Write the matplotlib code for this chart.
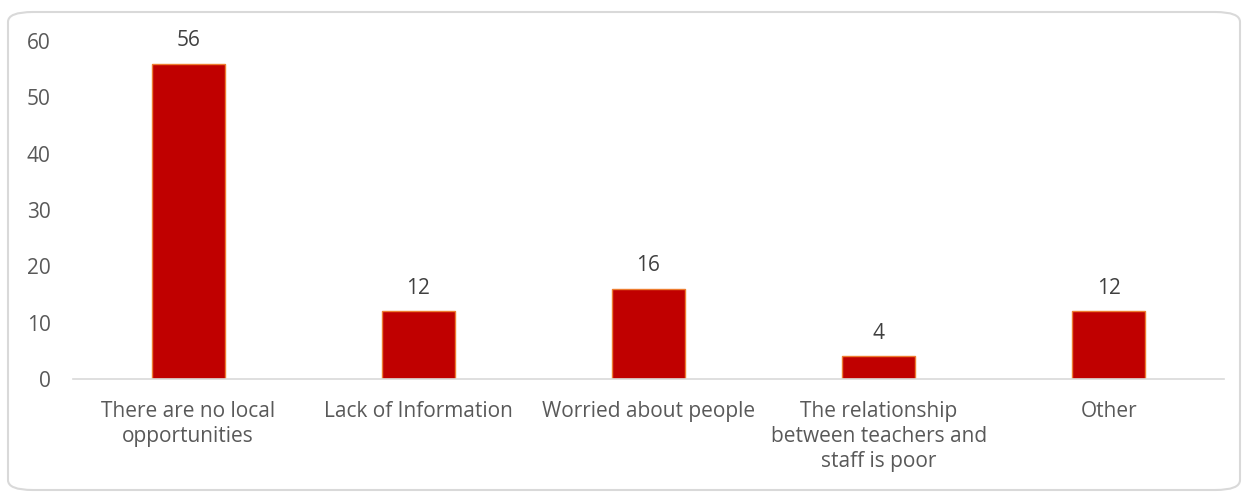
import matplotlib.pyplot as plt
from matplotlib.patches import FancyBboxPatch

categories = ["There are no local\nopportunities", "Lack of Information",
              "Worried about people",
              "The relationship\nbetween teachers and\nstaff is poor", "Other"]
values = [56, 12, 16, 4, 12]
yticks = [0, 10, 20, 30, 40, 50, 60]

plt.rcParams['font.family'] = ['Open Sans', 'DejaVu Sans']
txt_color = "#595959"

fig = plt.figure(figsize=(12.43, 4.94), dpi=100)

# rounded chart border
border = FancyBboxPatch((8 / 1243, 4 / 494), 1232 / 1243, 478 / 494,
                        boxstyle="round,pad=0,rounding_size=0.02",
                        transform=fig.transFigure, facecolor="none",
                        edgecolor="#D9D9D9", linewidth=1.5, zorder=-1)
fig.patches.append(border)

ax = fig.add_axes([73 / 1243, 115 / 494, 1151 / 1243, 338 / 494])
ax.set_facecolor("none")
x = range(len(values))
bars = ax.bar(x, values, width=0.317, color="#C00000", edgecolor="#ED7D31",
              linewidth=1)
for xi, v in zip(x, values):
    ax.annotate(str(v), (xi, v), xytext=(0, 16.5), textcoords="offset points",
                ha="center", va="center", fontsize=15, color="#404040")

ax.set_xlim(-0.5, len(values) - 0.5)
ax.set_ylim(0, 60)
ax.set_yticks(yticks)
ax.set_xticks(list(x))
ax.set_xticklabels(categories, fontsize=15, color=txt_color, linespacing=1.25)
ax.tick_params(axis="y", labelsize=15, labelcolor=txt_color, length=0, pad=16)
ax.tick_params(axis="x", length=0, pad=16)
for s in ["top", "right", "left"]:
    ax.spines[s].set_visible(False)
ax.spines["bottom"].set_color("#D9D9D9")
ax.spines["bottom"].set_linewidth(1.2)

fig.savefig("out.png", dpi=100)
